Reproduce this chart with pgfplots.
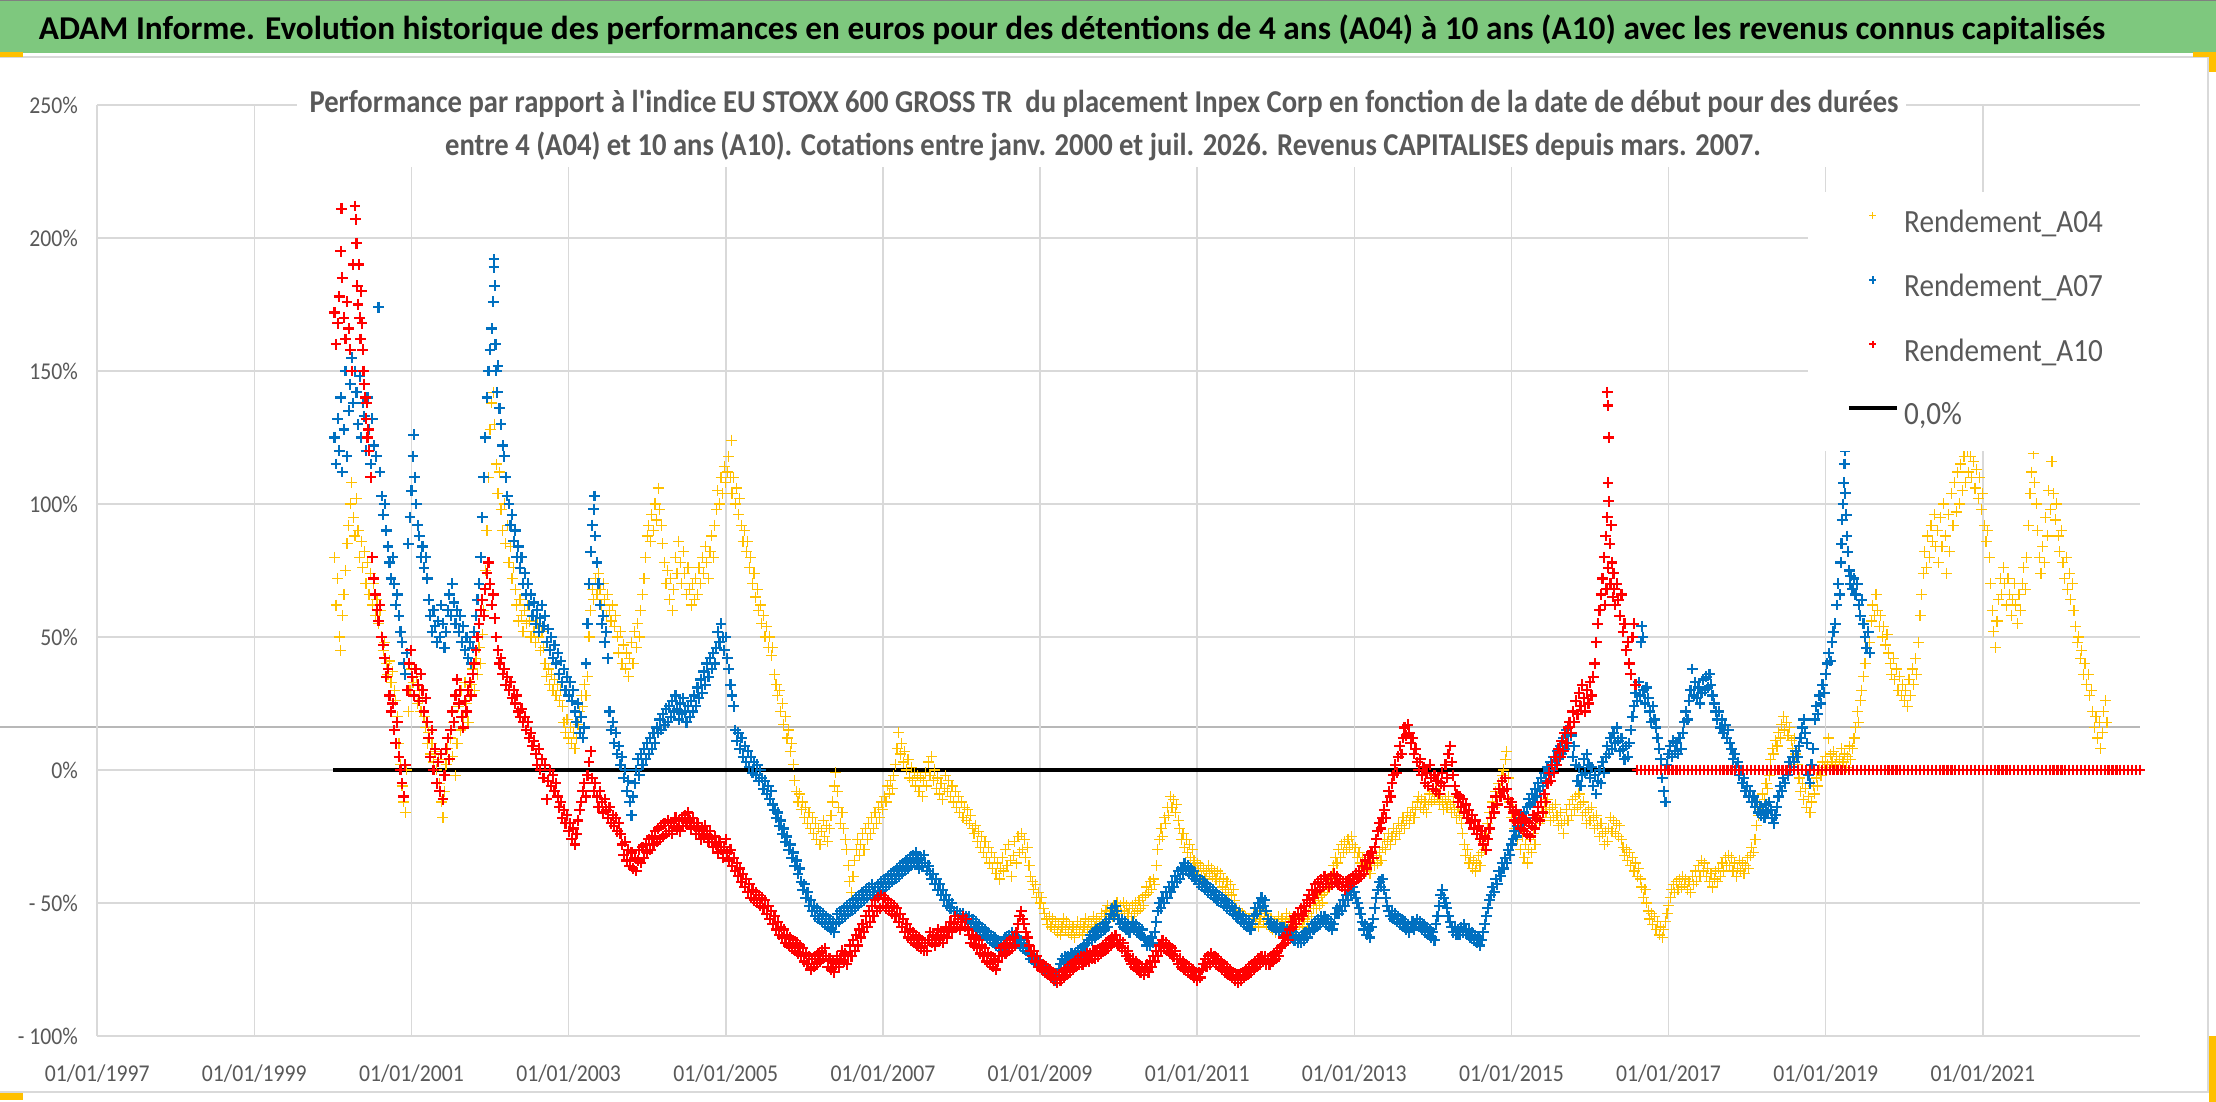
\documentclass[border=0pt]{standalone}
\usepackage{fontspec}
\setmainfont{Carlito}
\newfontfamily\chartfont{Carlito}[FakeStretch=0.9]
\usepackage{pgfplots}
\pgfplotsset{compat=1.18}
\definecolor{cA}{HTML}{FFC000}
\definecolor{cB}{HTML}{0070C0}
\definecolor{cC}{HTML}{FF0000}
\definecolor{gridc}{HTML}{D9D9D9}
\definecolor{txt}{HTML}{595959}
\definecolor{ban}{HTML}{7EC87E}
\begin{document}
\begin{tikzpicture}[x=0.5pt,y=0.5pt]
\fill[white] (0,0) rectangle (2216,1102);
\path[use as bounding box] (0,0) rectangle (2216,1102);
\fill[ban] (0,1049) rectangle (2216,1102);
\draw[gray, line width=0.75pt] (0,1101.5) -- (2216,1101.5);
\draw[gridc, line width=1pt] (0,1045) -- (2216,1045);
\draw[gridc, line width=1pt] (0,10) -- (2216,10);
\draw[gridc, line width=1pt] (2208,10) -- (2208,1045);
\draw[black!28, line width=1pt] (0,375.3) -- (2140,375.3);
\node[anchor=base, inner sep=0pt, font=\bfseries\fontsize{16.65}{20}\selectfont, text=black] at (1072,1062) {ADAM Informe. Evolution historique des performances en euros pour des détentions de 4 ans (A04) à 10 ans (A10) avec les revenus connus capitalisés};
\begin{axis}[
  at={(48.6pt,33pt)}, anchor=south west, scale only axis,
  width=1021.4pt, height=465.5pt,
  xmin=1997, xmax=2023, ymin=-100, ymax=250,
  xtick={1997,1999,2001,2003,2005,2007,2009,2011,2013,2015,2017,2019,2021},
  xticklabels={01/01/1997,01/01/1999,01/01/2001,01/01/2003,01/01/2005,01/01/2007,01/01/2009,01/01/2011,01/01/2013,01/01/2015,01/01/2017,01/01/2019,01/01/2021},
  ytick={-100,-50,0,50,100,150,200,250},
  yticklabels={- 100\%,- 50\%,0\%,50\%,100\%,150\%,200\%,250\%},
  xmajorgrids, ymajorgrids,
  major grid style={draw=gridc, line width=0.75pt},
  axis line style={draw=none},
  major tick length=0pt,
  tick label style={font=\chartfont\fontsize{12.05}{14}\selectfont, text=txt},
  xticklabel style={anchor=base, inner sep=0pt, yshift=-23pt},
  yticklabel style={anchor=east, inner sep=0pt, xshift=-9.5pt},
  clip=false,
  legend style={at={(0.8375,0.9067)}, anchor=north west, draw=none, fill=white,
    inner xsep=19pt, inner ysep=10pt, font=\chartfont\fontsize{16.2}{19}\selectfont, text=txt,
    row sep=18.9pt, column sep=2.5pt,
    nodes={inner sep=0pt, text height=10pt, text depth=3pt}},
  legend cell align=left,
  legend image code/.code={\draw[mark repeat=2,mark phase=2,#1,mark size=1.8pt] plot coordinates {(0pt,4.9pt) (12pt,4.9pt) (24pt,4.9pt)};},
]
% Rendement_A04
\addplot[only marks, mark=+, color=cA, mark size=2.75pt, line width=0.6pt] coordinates {
(2000.02,80)(2000.04,62)(2000.06,72)(2000.08,50)(2000.10,45)(2000.12,58)(2000.14,66)(2000.16,75)(2000.18,85)(2000.20,92)(2000.22,100)(2000.24,108)(2000.26,95)(2000.28,88)(2000.30,102)(2000.32,90)(2000.34,80)(2000.36,86)(2000.38,76)(2000.40,82)(2000.42,70)(2000.44,78)(2000.46,66)(2000.48,74)(2000.50,62)(2000.52,70)(2000.54,58)(2000.56,64)(2000.58,55)(2000.60,60)(2000.62,50)(2000.64,45)(2000.66,48)(2000.68,40)(2000.70,36)(2000.72,41)(2000.74,33)(2000.76,37)(2000.78,30)(2000.80,26)(2000.82,20)(2000.84,10)(2000.86,2)(2000.88,-6)(2000.90,-12)(2000.92,-16)(2000.94,0)
(2000.96,22)(2000.98,30)(2001.00,38)(2001.02,33)(2001.04,28)(2001.06,35)(2001.08,25)(2001.10,30)(2001.12,22)(2001.14,27)(2001.16,20)
(2001.18,16)(2001.20,10)(2001.22,14)(2001.24,6)(2001.26,10)(2001.28,3)(2001.30,7)(2001.32,0)(2001.34,4)(2001.36,-5)(2001.38,-12)(2001.40,-18)(2001.42,-8)(2001.44,2)(2001.46,8)(2001.48,4)
(2001.50,12)(2001.52,5)(2001.54,18)(2001.56,-2)(2001.58,10)(2001.60,24)(2001.62,15)(2001.64,30)(2001.66,20)(2001.68,33)(2001.70,25)(2001.72,18)(2001.74,28)
(2001.76,32)(2001.78,38)(2001.80,30)(2001.82,42)(2001.84,36)(2001.86,46)(2001.88,40)(2001.90,51)
(2001.92,60)(2001.94,75)(2001.96,90)(2001.98,110)(2002.00,128)(2002.02,138)(2002.04,142)(2002.06,130)(2002.08,115)(2002.10,104)(2002.12,112)(2002.14,98)(2002.16,90)(2002.18,100)(2002.20,85)(2002.22,92)(2002.24,78)(2002.26,84)(2002.28,72)(2002.30,76)(2002.32,68)
(2002.34,62)(2002.36,56)(2002.38,64)(2002.40,58)(2002.42,52)(2002.44,60)(2002.46,55)(2002.48,62)(2002.50,56)(2002.52,50)(2002.54,58)(2002.56,52)(2002.58,48)(2002.60,55)(2002.62,50)(2002.64,45)(2002.66,52)(2002.68,46)
(2002.70,40)(2002.72,35)(2002.74,38)(2002.76,32)(2002.78,36)(2002.80,30)(2002.82,34)(2002.84,28)(2002.86,32)(2002.88,26)(2002.90,30)(2002.92,24)
(2002.94,18)(2002.96,14)(2002.98,19)(2003.00,12)(2003.02,16)(2003.04,10)(2003.06,14)(2003.08,8)(2003.10,12)(2003.12,17)
(2003.14,22)(2003.16,28)(2003.18,24)(2003.20,32)(2003.22,28)(2003.24,35)
(2003.26,50)(2003.28,60)(2003.30,68)(2003.32,64)(2003.34,72)(2003.36,66)(2003.38,74)(2003.40,68)(2003.42,62)(2003.44,70)(2003.46,64)(2003.48,58)(2003.50,66)(2003.52,60)(2003.54,56)(2003.56,62)(2003.58,54)(2003.60,58)
(2003.62,50)(2003.64,44)(2003.66,52)(2003.68,40)(2003.70,47)(2003.72,38)(2003.74,44)(2003.76,35)(2003.78,42)(2003.80,48)(2003.82,40)(2003.84,52)(2003.86,46)(2003.88,55)(2003.90,50)(2003.92,60)(2003.94,66)
(2003.96,72)(2003.98,80)(2004.00,88)(2004.02,92)(2004.04,86)(2004.06,96)(2004.08,90)(2004.10,100)(2004.12,94)(2004.14,106)(2004.16,98)(2004.18,92)(2004.20,85)
(2004.22,78)(2004.24,70)(2004.26,75)(2004.28,64)(2004.30,72)(2004.32,60)(2004.34,68)(2004.36,80)(2004.38,74)(2004.40,86)(2004.42,78)(2004.44,70)(2004.46,82)(2004.48,74)(2004.50,66)(2004.52,76)(2004.54,68)(2004.56,62)(2004.58,70)
(2004.60,64)(2004.62,72)(2004.64,66)(2004.66,76)(2004.68,70)(2004.70,80)(2004.72,74)(2004.74,84)(2004.76,78)(2004.78,72)(2004.80,82)(2004.82,88)(2004.84,80)(2004.86,92)
(2004.88,98)(2004.90,105)(2004.92,100)(2004.94,110)(2004.96,104)(2004.98,114)(2005.00,108)(2005.02,112)(2005.04,118)(2005.06,110)(2005.07,124)(2005.08,104)(2005.10,110)(2005.12,100)(2005.14,106)(2005.16,96)(2005.18,102)
(2005.20,92)(2005.22,86)(2005.24,90)(2005.26,82)(2005.28,86)(2005.30,76)(2005.32,80)(2005.34,70)(2005.36,74)(2005.38,65)(2005.40,68)(2005.42,60)
(2005.44,62)(2005.46,55)(2005.48,58)(2005.50,50)(2005.52,54)(2005.54,46)(2005.56,50)(2005.58,43)(2005.60,46)
(2005.62,36)(2005.64,32)(2005.66,28)(2005.68,30)(2005.70,22)(2005.72,25)(2005.74,17)(2005.76,20)(2005.78,12)(2005.80,15)(2005.82,7)(2005.84,10)(2005.86,2)
(2005.88,-4)(2005.90,-8)(2005.92,-12)(2005.94,-9)(2005.96,-15)(2005.98,-12)(2006.00,-18)(2006.02,-14)(2006.04,-20)(2006.06,-16)(2006.08,-22)(2006.10,-18)(2006.12,-24)(2006.14,-20)(2006.16,-26)(2006.18,-22)(2006.20,-28)(2006.22,-23)(2006.24,-19)(2006.26,-25)(2006.28,-21)(2006.30,-27)(2006.32,-22)(2006.34,-17)(2006.36,-12)(2006.38,-6)(2006.40,-1)(2006.42,-8)(2006.44,-14)(2006.46,-20)(2006.48,-16)(2006.50,-22)(2006.52,-26)
(2006.54,-30)(2006.56,-36)(2006.58,-42)(2006.60,-46)(2006.62,-40)(2006.64,-34)(2006.66,-30)(2006.68,-26)(2006.70,-32)
(2006.72,-28)(2006.74,-24)(2006.76,-30)(2006.78,-22)(2006.80,-26)(2006.82,-20)(2006.84,-24)(2006.86,-18)(2006.88,-22)(2006.90,-16)(2006.92,-20)(2006.94,-14)(2006.96,-18)(2006.98,-12)
(2007.00,-15)(2007.02,-10)(2007.04,-12)(2007.06,-6)(2007.08,-9)(2007.10,-4)(2007.12,-7)(2007.14,-2)
(2007.16,2)(2007.18,8)(2007.20,14)(2007.22,6)(2007.24,10)(2007.26,3)(2007.28,7)(2007.30,0)(2007.32,4)(2007.34,-3)
(2007.36,1)(2007.38,-4)(2007.40,-1)(2007.42,-6)(2007.44,-2)(2007.46,-8)(2007.48,-3)(2007.50,-10)(2007.52,-4)(2007.54,-1)(2007.56,-6)(2007.58,3)(2007.60,-2)(2007.62,5)(2007.64,-4)(2007.66,0)(2007.68,-7)(2007.70,-3)(2007.72,-9)(2007.74,-5)(2007.76,-11)(2007.78,-7)(2007.80,-2)(2007.82,-8)(2007.84,-4)(2007.86,-10)(2007.88,-6)(2007.90,-12)(2007.92,-8)(2007.94,-14)(2007.96,-10)(2007.98,-16)
(2008.00,-12)(2008.02,-18)(2008.04,-14)(2008.06,-19)(2008.08,-15)(2008.10,-20)(2008.12,-17)(2008.14,-22)
(2008.16,-24)(2008.18,-21)(2008.20,-27)(2008.22,-23)(2008.24,-29)(2008.26,-25)(2008.28,-31)(2008.30,-27)(2008.32,-33)(2008.34,-29)(2008.36,-35)(2008.38,-31)(2008.40,-37)(2008.42,-33)(2008.44,-39)(2008.46,-35)(2008.48,-41)(2008.50,-37)
(2008.52,-33)(2008.54,-38)(2008.56,-30)(2008.58,-36)(2008.60,-28)(2008.62,-34)(2008.64,-40)(2008.66,-32)(2008.68,-27)(2008.70,-35)(2008.72,-25)(2008.74,-31)(2008.76,-24)(2008.78,-30)(2008.80,-26)(2008.82,-33)(2008.84,-29)(2008.86,-36)(2008.88,-40)
(2008.90,-42)(2008.92,-45)(2008.94,-43)(2008.96,-48)(2008.98,-46)(2009.00,-50)(2009.02,-48)(2009.04,-52)(2009.06,-54)
(2009.08,-56)(2009.10,-58)(2009.12,-55)(2009.14,-59)(2009.16,-56)(2009.18,-60)(2009.20,-57)(2009.22,-61)(2009.24,-58)(2009.26,-62)(2009.28,-59)(2009.30,-56)(2009.32,-60)(2009.34,-57)(2009.36,-61)(2009.38,-58)(2009.40,-62)(2009.42,-59)(2009.44,-63)(2009.46,-60)(2009.48,-57)(2009.50,-61)(2009.52,-58)(2009.54,-62)(2009.56,-59)(2009.58,-56)(2009.60,-60)(2009.62,-57)(2009.64,-61)(2009.66,-58)(2009.68,-55)(2009.70,-59)(2009.72,-56)(2009.74,-60)(2009.76,-57)(2009.78,-54)(2009.80,-58)(2009.82,-55)
(2009.84,-53)(2009.86,-51)(2009.88,-54)(2009.90,-52)(2009.92,-55)(2009.94,-51)(2009.96,-54)(2009.98,-50)(2010.00,-53)(2010.02,-51)(2010.04,-54)(2010.06,-50)(2010.08,-53)(2010.10,-51)(2010.12,-54)(2010.14,-52)(2010.16,-55)(2010.18,-51)(2010.20,-54)(2010.22,-50)(2010.24,-53)(2010.26,-49)(2010.28,-52)(2010.30,-48)(2010.32,-51)
(2010.34,-47)(2010.36,-44)(2010.38,-46)(2010.40,-42)(2010.42,-45)(2010.44,-41)(2010.46,-43)
(2010.48,-36)(2010.50,-30)(2010.52,-26)(2010.54,-22)(2010.56,-25)(2010.58,-18)(2010.60,-20)(2010.62,-14)(2010.64,-17)(2010.66,-10)(2010.68,-14)(2010.70,-11)(2010.72,-16)(2010.74,-13)(2010.76,-19)(2010.78,-22)(2010.80,-26)
(2010.82,-24)(2010.84,-29)(2010.86,-26)(2010.88,-31)(2010.90,-28)(2010.92,-33)(2010.94,-30)(2010.96,-34)
(2010.98,-37)(2011.00,-35)(2011.02,-38)(2011.04,-36)(2011.06,-40)(2011.08,-37)(2011.10,-41)(2011.12,-38)(2011.14,-36)(2011.16,-39)(2011.18,-37)(2011.20,-40)(2011.22,-38)(2011.24,-41)
(2011.26,-38)(2011.28,-42)(2011.30,-39)(2011.32,-44)(2011.34,-41)(2011.36,-45)(2011.38,-42)(2011.40,-46)(2011.42,-43)(2011.44,-47)(2011.46,-45)(2011.48,-49)
(2011.50,-52)(2011.52,-55)(2011.54,-53)(2011.56,-57)(2011.58,-54)(2011.60,-58)(2011.62,-55)(2011.64,-59)(2011.66,-56)(2011.68,-60)(2011.70,-57)(2011.72,-54)(2011.74,-58)(2011.76,-55)(2011.78,-59)(2011.80,-56)(2011.82,-53)(2011.84,-57)(2011.86,-54)(2011.88,-58)(2011.90,-55)(2011.92,-59)(2011.94,-56)(2011.96,-60)(2011.98,-57)(2012.00,-61)(2012.02,-58)(2012.04,-55)(2012.06,-59)(2012.08,-56)(2012.10,-60)(2012.12,-57)(2012.14,-54)
(2012.16,-58)(2012.18,-55)(2012.20,-59)(2012.22,-56)(2012.24,-60)(2012.26,-57)(2012.28,-54)(2012.30,-58)(2012.32,-55)(2012.34,-59)(2012.36,-56)(2012.38,-53)(2012.40,-57)(2012.42,-54)(2012.44,-51)(2012.46,-55)(2012.48,-52)(2012.50,-49)(2012.52,-52)(2012.54,-48)(2012.56,-51)(2012.58,-47)(2012.60,-50)
(2012.62,-46)(2012.64,-43)(2012.66,-45)(2012.68,-41)(2012.70,-43)(2012.72,-39)(2012.74,-36)(2012.76,-33)(2012.78,-35)(2012.80,-30)(2012.82,-33)(2012.84,-28)(2012.86,-31)(2012.88,-27)(2012.90,-30)(2012.92,-26)(2012.94,-29)(2012.96,-25)(2012.98,-28)(2013.00,-31)(2013.02,-29)(2013.04,-33)(2013.06,-31)
(2013.08,-35)(2013.10,-33)(2013.12,-37)(2013.14,-34)(2013.16,-38)(2013.18,-35)(2013.20,-39)(2013.22,-36)(2013.24,-33)(2013.26,-36)(2013.28,-32)(2013.30,-35)(2013.32,-31)(2013.34,-34)
(2013.36,-29)(2013.38,-26)(2013.40,-30)(2013.42,-27)(2013.44,-24)(2013.46,-28)(2013.48,-25)(2013.50,-22)(2013.52,-26)(2013.54,-23)(2013.56,-20)(2013.58,-24)(2013.60,-21)(2013.62,-18)(2013.64,-22)(2013.66,-19)(2013.68,-16)(2013.70,-20)(2013.72,-17)(2013.74,-14)(2013.76,-18)(2013.78,-15)(2013.80,-12)
(2013.82,-10)(2013.84,-14)(2013.86,-11)(2013.88,-15)(2013.90,-12)(2013.92,-16)(2013.94,-13)(2013.96,-9)(2013.98,-12)(2014.00,-8)(2014.02,-11)(2014.04,-7)(2014.06,-10)(2014.08,-13)(2014.10,-9)(2014.12,-12)(2014.14,-15)(2014.16,-11)(2014.18,-14)(2014.20,-10)(2014.22,-13)(2014.24,-16)(2014.26,-12)(2014.28,-15)(2014.30,-18)(2014.32,-14)(2014.34,-17)(2014.36,-20)(2014.38,-24)
(2014.40,-28)(2014.42,-32)(2014.44,-30)(2014.46,-35)(2014.48,-33)(2014.50,-37)(2014.52,-34)(2014.54,-38)(2014.56,-35)(2014.58,-32)(2014.60,-36)(2014.62,-31)(2014.64,-27)(2014.66,-30)(2014.68,-24)
(2014.70,-20)(2014.72,-16)(2014.74,-18)(2014.76,-12)(2014.78,-14)(2014.80,-8)(2014.82,-10)(2014.84,-5)(2014.86,-7)(2014.88,-2)(2014.90,0)(2014.92,4)(2014.94,7)(2014.96,-3)
(2014.98,-12)(2015.00,-18)(2015.02,-15)(2015.04,-22)(2015.06,-18)(2015.08,-26)(2015.10,-22)(2015.12,-30)(2015.14,-25)(2015.16,-33)(2015.18,-28)(2015.20,-35)(2015.22,-30)(2015.24,-26)(2015.26,-31)(2015.28,-24)(2015.30,-28)(2015.32,-20)
(2015.34,-16)(2015.36,-20)(2015.38,-14)(2015.40,-18)(2015.42,-12)(2015.44,-16)(2015.46,-11)(2015.48,-15)(2015.50,-19)(2015.52,-14)(2015.54,-18)(2015.56,-13)(2015.58,-17)(2015.60,-21)(2015.62,-16)(2015.64,-20)(2015.66,-24)(2015.68,-19)(2015.70,-15)(2015.72,-19)(2015.74,-13)(2015.76,-17)(2015.78,-11)(2015.80,-15)(2015.82,-10)(2015.84,-14)(2015.86,-9)(2015.88,-13)(2015.90,-17)(2015.92,-12)(2015.94,-16)(2015.96,-20)(2015.98,-15)
(2016.00,-19)(2016.02,-14)(2016.04,-18)(2016.06,-22)(2016.08,-17)(2016.10,-21)(2016.12,-25)(2016.14,-20)(2016.16,-24)(2016.18,-28)(2016.20,-23)(2016.22,-27)(2016.24,-22)(2016.26,-18)(2016.28,-23)(2016.30,-19)(2016.32,-24)(2016.34,-20)(2016.36,-25)(2016.38,-21)(2016.40,-26)
(2016.42,-29)(2016.44,-32)(2016.46,-30)(2016.48,-34)(2016.50,-31)(2016.52,-36)(2016.54,-33)(2016.56,-38)(2016.58,-35)(2016.60,-40)(2016.62,-37)(2016.64,-41)(2016.66,-44)(2016.68,-48)(2016.70,-45)(2016.72,-50)
(2016.74,-53)(2016.76,-56)(2016.78,-54)(2016.80,-58)(2016.82,-55)(2016.84,-60)(2016.86,-57)(2016.88,-62)(2016.90,-59)(2016.92,-63)(2016.94,-60)(2016.96,-57)(2016.98,-54)(2017.00,-51)
(2017.02,-48)(2017.04,-45)(2017.06,-43)(2017.08,-46)(2017.10,-42)(2017.12,-45)(2017.14,-41)(2017.16,-44)(2017.18,-40)(2017.20,-43)(2017.22,-41)(2017.24,-45)(2017.26,-42)(2017.28,-46)
(2017.30,-40)(2017.32,-43)(2017.34,-38)(2017.36,-42)(2017.38,-36)(2017.40,-40)(2017.42,-34)(2017.44,-38)(2017.46,-35)(2017.48,-40)(2017.50,-37)(2017.52,-42)(2017.54,-39)(2017.56,-44)(2017.58,-41)(2017.60,-38)(2017.62,-42)(2017.64,-37)(2017.66,-40)(2017.68,-35)(2017.70,-38)(2017.72,-33)(2017.74,-36)
(2017.76,-32)(2017.78,-36)(2017.80,-33)(2017.82,-38)(2017.84,-35)(2017.86,-40)(2017.88,-37)(2017.90,-34)(2017.92,-38)(2017.94,-35)(2017.96,-39)(2017.98,-36)(2018.00,-33)(2018.02,-37)(2018.04,-32)(2018.06,-29)(2018.08,-31)(2018.10,-26)
(2018.12,-21)(2018.14,-17)(2018.16,-13)(2018.18,-15)(2018.20,-9)(2018.22,-11)(2018.24,-5)(2018.26,-7)(2018.28,-2)
(2018.30,4)(2018.32,8)(2018.34,6)(2018.36,11)(2018.38,9)(2018.40,14)(2018.42,12)(2018.44,17)(2018.46,20)(2018.48,15)(2018.50,18)(2018.52,13)(2018.54,16)(2018.56,11)(2018.58,8)(2018.60,12)(2018.62,6)(2018.64,2)
(2018.66,-3)(2018.68,-8)(2018.70,-5)(2018.72,-11)(2018.74,-7)(2018.76,-14)(2018.78,-10)(2018.80,-16)(2018.82,-12)(2018.84,-6)(2018.86,-9)(2018.88,-3)(2018.90,-6)(2018.92,0)(2018.94,-2)(2018.96,3)
(2018.98,1)(2019.00,5)(2019.02,2)(2019.04,12)(2019.06,6)(2019.08,3)(2019.10,7)(2019.12,2)(2019.14,5)(2019.16,0)(2019.18,4)(2019.20,8)(2019.22,3)(2019.24,6)(2019.26,1)(2019.28,5)(2019.30,9)(2019.32,4)(2019.34,8)(2019.36,12)
(2019.38,16)(2019.40,22)(2019.42,18)(2019.44,26)(2019.46,30)(2019.48,35)
(2019.50,40)(2019.52,46)(2019.54,52)(2019.56,48)(2019.58,56)(2019.60,62)(2019.62,58)(2019.64,66)(2019.66,60)(2019.68,54)(2019.70,58)(2019.72,50)(2019.74,54)(2019.76,47)(2019.78,51)(2019.80,44)
(2019.82,40)(2019.84,36)(2019.86,42)(2019.88,34)(2019.90,38)(2019.92,30)(2019.94,35)(2019.96,28)(2019.98,32)(2020.00,26)(2020.02,30)(2020.04,24)(2020.06,34)(2020.08,28)(2020.10,38)(2020.12,32)(2020.14,42)(2020.16,36)
(2020.18,48)(2020.20,58)(2020.22,66)(2020.24,74)(2020.26,82)(2020.28,76)(2020.30,88)(2020.32,80)(2020.34,92)(2020.36,86)(2020.38,96)(2020.40,84)
(2020.42,90)(2020.44,78)(2020.46,95)(2020.48,84)(2020.50,100)(2020.52,88)(2020.54,74)(2020.56,96)(2020.58,82)(2020.60,104)(2020.62,92)(2020.64,108)(2020.66,97)(2020.68,112)(2020.70,100)(2020.72,115)(2020.74,105)(2020.76,118)(2020.78,108)(2020.80,120)(2020.82,112)(2020.84,118)(2020.86,110)(2020.88,116)(2020.90,106)(2020.92,113)(2020.94,102)(2020.96,110)(2020.98,98)(2021.00,104)
(2021.02,92)(2021.04,86)(2021.06,90)(2021.08,80)(2021.10,70)(2021.12,60)(2021.14,52)(2021.16,46)(2021.18,56)(2021.20,64)(2021.22,72)(2021.24,66)(2021.26,76)(2021.28,70)(2021.30,62)(2021.32,72)(2021.34,66)(2021.36,58)(2021.38,64)(2021.40,70)(2021.42,62)(2021.44,55)(2021.46,66)(2021.48,60)(2021.50,70)(2021.52,76)(2021.54,68)(2021.56,80)
(2021.58,92)(2021.60,104)(2021.62,112)(2021.64,119)(2021.66,108)(2021.68,100)(2021.70,90)
(2021.72,80)(2021.74,74)(2021.76,84)(2021.78,78)(2021.80,95)(2021.82,88)(2021.84,105)(2021.86,98)(2021.88,116)(2021.90,104)(2021.92,94)(2021.94,100)(2021.96,88)(2021.98,82)(2022.00,90)(2022.02,78)(2022.04,72)(2022.06,80)(2022.08,68)(2022.10,74)(2022.12,64)(2022.14,70)(2022.16,60)
(2022.18,54)(2022.20,48)(2022.22,50)(2022.24,42)(2022.26,45)(2022.28,36)(2022.30,40)(2022.32,32)(2022.34,36)(2022.36,28)(2022.38,30)(2022.40,22)(2022.42,16)(2022.44,20)(2022.46,12)(2022.48,18)(2022.50,8)(2022.52,14)(2022.54,22)(2022.56,26)(2022.58,18)
};
\addlegendentry{Rendement\_A04}
% Rendement_A07
\addplot[only marks, mark=+, color=cB, mark size=2.7pt, line width=1.1pt] coordinates {
(2000.02,125)(2000.04,115)(2000.06,132)(2000.08,120)(2000.10,140)(2000.12,112)(2000.14,128)(2000.16,150)(2000.18,118)(2000.20,135)(2000.22,145)(2000.24,155)(2000.26,138)(2000.28,150)(2000.30,142)(2000.32,130)(2000.34,148)(2000.36,125)(2000.38,138)(2000.40,133)(2000.42,120)(2000.44,140)(2000.46,128)(2000.48,115)(2000.50,132)(2000.52,122)(2000.55,118)(2000.58,174)(2000.60,112)(2000.62,103)(2000.64,96)(2000.66,100)(2000.68,90)(2000.70,84)(2000.72,78)(2000.74,72)(2000.76,80)(2000.78,70)(2000.80,62)(2000.82,66)(2000.84,58)(2000.86,52)(2000.88,48)(2000.90,40)(2000.92,36)(2000.94,44)
(2000.96,85)(2000.98,95)(2001.00,105)(2001.02,118)(2001.03,126)(2001.04,110)(2001.06,100)(2001.08,92)
(2001.10,88)(2001.12,80)(2001.14,84)(2001.16,76)(2001.18,80)(2001.20,72)
(2001.22,64)(2001.24,58)(2001.26,52)(2001.28,60)(2001.30,54)(2001.32,48)(2001.34,56)(2001.36,50)(2001.38,62)(2001.40,55)(2001.42,46)(2001.44,52)(2001.46,60)(2001.48,66)(2001.50,58)(2001.52,70)(2001.54,63)(2001.56,55)(2001.58,60)(2001.60,52)(2001.62,58)(2001.64,48)
(2001.66,54)(2001.68,45)(2001.70,50)(2001.72,42)(2001.74,48)(2001.76,40)(2001.78,46)(2001.80,52)(2001.82,58)(2001.84,64)(2001.86,70)
(2001.88,80)(2001.90,95)(2001.92,110)(2001.94,125)(2001.96,140)(2001.98,150)(2002.00,158)(2002.02,166)(2002.04,176)(2002.05,192)(2002.05,189)(2002.06,182)(2002.07,160)(2002.08,150)(2002.09,142)(2002.10,152)(2002.12,136)(2002.14,130)(2002.16,122)(2002.18,118)(2002.20,110)(2002.22,103)(2002.24,100)(2002.26,92)(2002.28,96)(2002.30,86)(2002.32,90)(2002.34,80)(2002.36,84)(2002.38,76)(2002.40,80)(2002.42,70)(2002.44,74)(2002.46,66)(2002.48,70)(2002.50,62)
(2002.52,66)(2002.54,58)(2002.56,63)(2002.58,55)(2002.60,60)(2002.62,52)(2002.64,57)(2002.66,62)(2002.68,54)(2002.70,58)(2002.72,48)(2002.74,53)(2002.76,45)(2002.78,50)(2002.80,42)(2002.82,47)(2002.84,40)(2002.86,44)(2002.88,36)(2002.90,41)(2002.92,33)(2002.94,38)(2002.96,30)(2002.98,35)(2003.00,28)(2003.02,33)(2003.04,26)(2003.06,30)(2003.08,22)(2003.10,18)(2003.12,25)(2003.14,14)(2003.16,20)(2003.18,12)(2003.20,16)
(2003.22,40)(2003.24,55)(2003.26,70)(2003.28,82)(2003.30,92)(2003.32,98)(2003.33,103)(2003.34,88)(2003.36,78)(2003.38,70)(2003.40,62)(2003.42,55)(2003.44,58)(2003.46,48)(2003.48,52)(2003.50,42)
(2003.52,22)(2003.54,15)(2003.56,18)(2003.58,10)(2003.60,14)(2003.62,6)(2003.64,9)(2003.66,2)(2003.68,5)(2003.70,-3)(2003.72,0)(2003.74,-8)(2003.76,-4)(2003.78,-12)(2003.80,-17)(2003.82,-10)(2003.84,-5)
(2003.86,0)(2003.88,4)(2003.90,-2)(2003.92,6)(2003.94,2)(2003.96,8)(2003.98,4)(2004.00,10)(2004.02,6)(2004.04,12)(2004.06,8)(2004.08,14)(2004.10,10)(2004.12,16)
(2004.14,14)(2004.16,19)(2004.18,15)(2004.20,21)(2004.22,17)(2004.24,23)(2004.26,18)(2004.28,24)(2004.30,20)(2004.32,26)(2004.34,22)(2004.36,28)(2004.38,23)(2004.40,19)(2004.42,25)(2004.44,21)(2004.46,27)(2004.48,22)(2004.50,18)(2004.52,24)(2004.54,20)(2004.56,26)(2004.58,22)
(2004.60,28)(2004.62,24)(2004.64,31)(2004.66,27)(2004.68,34)(2004.70,29)(2004.72,37)(2004.74,32)(2004.76,40)(2004.78,35)(2004.80,42)(2004.82,38)(2004.84,44)(2004.86,40)
(2004.88,46)(2004.90,52)(2004.92,48)(2004.94,55)(2004.96,50)(2004.98,45)(2005.00,50)(2005.02,42)
(2005.04,38)(2005.06,32)(2005.08,28)(2005.10,24)
(2005.12,15)(2005.14,11)(2005.16,14)(2005.18,8)(2005.20,12)(2005.22,5)(2005.24,9)(2005.26,3)(2005.28,7)(2005.30,1)(2005.32,5)(2005.34,-1)(2005.36,3)(2005.38,-2)(2005.40,2)(2005.42,-4)(2005.44,0)
(2005.46,-3)(2005.48,-7)(2005.50,-4)(2005.52,-9)(2005.54,-6)(2005.56,-11)(2005.58,-8)(2005.60,-13)
(2005.62,-15)(2005.64,-18)(2005.66,-16)(2005.68,-21)(2005.70,-19)(2005.72,-24)(2005.74,-22)(2005.76,-27)(2005.78,-25)(2005.80,-30)(2005.82,-28)(2005.84,-33)(2005.86,-31)(2005.88,-36)(2005.90,-34)(2005.92,-39)(2005.94,-37)
(2005.96,-42)(2005.98,-45)(2006.00,-43)(2006.02,-48)(2006.04,-46)(2006.06,-51)(2006.08,-49)(2006.10,-53)(2006.12,-51)(2006.14,-55)(2006.16,-52)(2006.18,-56)
(2006.20,-53)(2006.22,-57)(2006.24,-54)(2006.26,-58)(2006.28,-55)(2006.30,-59)(2006.32,-56)(2006.34,-60)(2006.36,-57)(2006.38,-61)(2006.40,-58)(2006.42,-54)(2006.44,-57)(2006.46,-53)(2006.48,-56)(2006.50,-52)(2006.52,-55)(2006.54,-51)(2006.56,-54)(2006.58,-50)(2006.60,-53)(2006.62,-49)(2006.64,-52)(2006.66,-48)(2006.68,-51)(2006.70,-47)
(2006.72,-50)(2006.74,-46)(2006.76,-49)(2006.78,-45)(2006.80,-48)(2006.82,-44)(2006.84,-47)(2006.86,-43)(2006.88,-46)(2006.90,-44)(2006.92,-47)(2006.94,-43)(2006.96,-46)(2006.98,-42)
(2007.00,-45)(2007.02,-41)(2007.04,-44)(2007.06,-40)(2007.08,-43)(2007.10,-39)(2007.12,-42)(2007.14,-38)(2007.16,-41)(2007.18,-37)(2007.20,-40)(2007.22,-36)(2007.24,-39)
(2007.26,-35)(2007.28,-38)(2007.30,-34)(2007.32,-37)(2007.34,-33)(2007.36,-36)(2007.38,-32)(2007.40,-35)(2007.42,-31)(2007.44,-34)(2007.46,-37)(2007.48,-33)(2007.50,-36)(2007.52,-32)(2007.54,-35)(2007.56,-38)(2007.58,-36)(2007.60,-39)
(2007.62,-41)(2007.64,-39)(2007.66,-43)(2007.68,-41)(2007.70,-45)(2007.72,-43)(2007.74,-47)(2007.76,-45)(2007.78,-49)(2007.80,-47)(2007.82,-51)(2007.84,-49)(2007.86,-52)(2007.88,-50)
(2007.90,-53)(2007.92,-55)(2007.94,-53)(2007.96,-56)(2007.98,-54)(2008.00,-56)(2008.02,-54)(2008.04,-57)(2008.06,-55)(2008.08,-57)(2008.10,-55)
(2008.12,-58)(2008.14,-56)(2008.16,-59)(2008.18,-57)(2008.20,-60)(2008.22,-58)(2008.24,-61)(2008.26,-59)(2008.28,-62)(2008.30,-60)(2008.32,-63)(2008.34,-61)(2008.36,-64)(2008.38,-62)(2008.40,-65)(2008.42,-63)(2008.44,-66)(2008.46,-64)(2008.48,-67)(2008.50,-65)
(2008.52,-68)(2008.54,-65)(2008.56,-63)(2008.58,-66)(2008.60,-62)(2008.62,-65)(2008.64,-61)(2008.66,-64)(2008.68,-62)(2008.70,-65)(2008.72,-63)(2008.74,-66)(2008.76,-64)(2008.78,-67)(2008.80,-65)(2008.82,-68)(2008.84,-66)
(2008.86,-69)(2008.88,-71)(2008.90,-70)(2008.92,-72)(2008.94,-71)(2008.96,-73)(2008.98,-72)(2009.00,-74)(2009.02,-73)(2009.04,-75)(2009.06,-74)(2009.08,-76)(2009.10,-75)(2009.12,-77)(2009.14,-76)(2009.16,-78)(2009.18,-77)(2009.20,-79)(2009.22,-77)(2009.24,-75)
(2009.26,-73)(2009.28,-71)(2009.30,-73)(2009.32,-70)(2009.34,-72)(2009.36,-70)(2009.38,-72)(2009.40,-69)(2009.42,-71)(2009.44,-69)(2009.46,-71)(2009.48,-68)(2009.50,-70)(2009.52,-67)(2009.54,-69)(2009.56,-66)(2009.58,-68)(2009.60,-65)
(2009.62,-64)(2009.64,-62)(2009.66,-64)(2009.68,-61)(2009.70,-63)(2009.72,-60)(2009.74,-62)(2009.76,-59)(2009.78,-61)(2009.80,-58)(2009.82,-60)(2009.84,-57)(2009.86,-59)(2009.88,-56)
(2009.90,-54)(2009.92,-52)(2009.94,-55)(2009.96,-51)(2009.98,-53)
(2010.00,-56)(2010.02,-58)(2010.04,-56)(2010.06,-59)(2010.08,-57)(2010.10,-60)(2010.12,-58)(2010.14,-61)(2010.16,-59)(2010.18,-57)(2010.20,-60)(2010.22,-58)(2010.24,-61)(2010.26,-59)(2010.28,-62)(2010.30,-60)(2010.32,-63)
(2010.34,-64)(2010.36,-66)(2010.38,-64)(2010.40,-66)(2010.42,-63)(2010.44,-65)(2010.46,-61)
(2010.48,-57)(2010.50,-53)(2010.52,-50)(2010.54,-52)(2010.56,-48)(2010.58,-50)(2010.60,-46)(2010.62,-48)(2010.64,-44)(2010.66,-46)(2010.68,-42)(2010.70,-44)
(2010.72,-40)(2010.74,-42)(2010.76,-38)(2010.78,-41)(2010.80,-37)(2010.82,-39)(2010.84,-35)(2010.86,-38)(2010.88,-36)(2010.90,-39)(2010.92,-37)(2010.94,-40)(2010.96,-38)(2010.98,-41)
(2011.00,-40)(2011.02,-43)(2011.04,-41)(2011.06,-44)(2011.08,-42)(2011.10,-45)(2011.12,-43)(2011.14,-46)(2011.16,-44)(2011.18,-47)(2011.20,-45)(2011.22,-48)(2011.24,-46)
(2011.26,-49)(2011.28,-47)(2011.30,-50)(2011.32,-48)(2011.34,-51)(2011.36,-49)(2011.38,-52)(2011.40,-50)(2011.42,-53)(2011.44,-51)(2011.46,-54)(2011.48,-52)(2011.50,-55)
(2011.52,-56)(2011.54,-54)(2011.56,-57)(2011.58,-55)(2011.60,-58)(2011.62,-56)(2011.64,-59)(2011.66,-57)(2011.68,-60)(2011.70,-58)
(2011.72,-55)(2011.74,-52)(2011.76,-54)(2011.78,-50)(2011.80,-52)(2011.82,-48)(2011.84,-51)(2011.86,-49)(2011.88,-53)
(2011.90,-56)(2011.92,-58)(2011.94,-57)(2011.96,-59)(2011.98,-58)(2012.00,-60)(2012.02,-58)(2012.04,-61)(2012.06,-59)(2012.08,-61)(2012.10,-59)(2012.12,-62)(2012.14,-60)
(2012.16,-62)(2012.18,-60)(2012.20,-63)(2012.22,-61)(2012.24,-64)(2012.26,-62)(2012.28,-65)(2012.30,-63)(2012.32,-65)(2012.34,-62)(2012.36,-64)(2012.38,-61)(2012.40,-63)(2012.42,-60)
(2012.44,-61)(2012.46,-58)(2012.48,-60)(2012.50,-57)(2012.52,-59)(2012.54,-56)(2012.56,-58)(2012.58,-55)(2012.60,-57)(2012.62,-55)(2012.64,-58)(2012.66,-56)(2012.68,-59)(2012.70,-57)(2012.72,-60)(2012.74,-58)
(2012.76,-54)(2012.78,-52)(2012.80,-54)(2012.82,-51)(2012.84,-53)(2012.86,-49)(2012.88,-51)(2012.90,-47)(2012.92,-49)(2012.94,-45)(2012.96,-47)(2012.98,-44)(2013.00,-46)(2013.02,-48)(2013.04,-50)(2013.06,-52)
(2013.08,-54)(2013.10,-57)(2013.12,-60)(2013.14,-58)(2013.16,-62)(2013.18,-60)(2013.20,-63)(2013.22,-59)(2013.24,-56)
(2013.26,-52)(2013.28,-48)(2013.30,-45)(2013.32,-42)(2013.34,-44)(2013.36,-41)(2013.38,-45)(2013.40,-48)(2013.42,-51)(2013.44,-53)
(2013.46,-55)(2013.48,-53)(2013.50,-56)(2013.52,-54)(2013.54,-57)(2013.56,-55)(2013.58,-58)(2013.60,-56)(2013.62,-59)(2013.64,-57)(2013.66,-60)(2013.68,-58)(2013.70,-61)(2013.72,-59)(2013.74,-57)(2013.76,-60)(2013.78,-58)(2013.80,-56)
(2013.82,-59)(2013.84,-57)(2013.86,-60)(2013.88,-58)(2013.90,-61)(2013.92,-59)(2013.94,-62)(2013.96,-60)(2013.98,-63)(2014.00,-61)(2014.02,-64)(2014.04,-58)(2014.06,-55)
(2014.08,-51)(2014.10,-47)(2014.12,-45)(2014.14,-48)(2014.16,-50)(2014.18,-52)(2014.20,-55)(2014.22,-57)
(2014.24,-59)(2014.26,-61)(2014.28,-59)(2014.30,-62)(2014.32,-60)(2014.34,-62)(2014.36,-59)(2014.38,-61)(2014.40,-58)(2014.42,-60)(2014.44,-62)(2014.46,-60)(2014.48,-63)(2014.50,-61)(2014.52,-64)(2014.54,-62)(2014.56,-65)(2014.58,-63)(2014.60,-66)(2014.62,-64)(2014.64,-61)(2014.66,-58)(2014.68,-55)
(2014.70,-52)(2014.72,-49)(2014.74,-47)(2014.76,-44)(2014.78,-46)(2014.80,-41)(2014.82,-43)(2014.84,-38)(2014.86,-40)(2014.88,-35)(2014.90,-37)(2014.92,-33)(2014.94,-35)(2014.96,-30)(2014.98,-32)(2015.00,-28)
(2015.02,-26)(2015.04,-23)(2015.06,-25)(2015.08,-21)(2015.10,-23)(2015.12,-18)(2015.14,-20)(2015.16,-16)(2015.18,-18)
(2015.20,-14)(2015.22,-11)(2015.24,-13)(2015.26,-9)(2015.28,-12)(2015.30,-7)(2015.32,-10)(2015.34,-5)(2015.36,-8)(2015.38,-3)(2015.40,-6)(2015.42,-1)(2015.44,-4)(2015.46,1)(2015.48,-2)(2015.50,3)(2015.52,0)(2015.54,5)(2015.56,2)(2015.58,7)(2015.60,4)(2015.62,9)(2015.64,6)
(2015.66,12)(2015.68,8)(2015.70,15)(2015.72,10)(2015.74,18)(2015.76,13)(2015.78,5)(2015.80,9)(2015.82,2)(2015.84,-4)(2015.86,1)(2015.88,-6)(2015.90,-2)(2015.92,4)(2015.94,-1)(2015.96,6)
(2015.98,2)(2016.00,-3)(2016.02,1)(2016.04,-6)(2016.06,-2)(2016.08,-9)(2016.10,-4)(2016.12,0)(2016.14,-5)(2016.16,3)(2016.18,-1)
(2016.20,5)(2016.22,9)(2016.24,6)(2016.26,12)(2016.28,8)(2016.30,14)(2016.32,10)(2016.34,16)(2016.36,11)(2016.38,7)(2016.40,12)(2016.42,8)(2016.44,4)(2016.46,9)(2016.48,5)(2016.50,10)(2016.52,15)(2016.54,20)
(2016.56,24)(2016.58,29)(2016.60,26)(2016.62,33)(2016.64,28)(2016.65,48)(2016.66,54)(2016.67,50)(2016.68,30)(2016.70,25)(2016.72,31)(2016.74,27)
(2016.76,22)(2016.78,18)(2016.80,24)(2016.82,19)(2016.84,16)(2016.86,12)
(2016.88,8)(2016.90,4)(2016.92,-3)(2016.94,-8)(2016.96,-12)(2016.98,2)(2017.00,6)
(2017.02,9)(2017.04,5)(2017.06,11)(2017.08,7)(2017.10,10)(2017.12,6)(2017.14,12)(2017.16,8)(2017.18,14)(2017.20,18)(2017.22,22)(2017.24,19)
(2017.26,26)(2017.28,30)(2017.30,38)(2017.32,28)(2017.34,33)(2017.36,27)(2017.38,31)(2017.40,25)(2017.42,29)(2017.44,34)(2017.46,30)(2017.48,35)(2017.50,31)(2017.52,36)(2017.54,32)(2017.56,28)(2017.58,25)(2017.60,22)
(2017.62,19)(2017.64,22)(2017.66,16)(2017.68,19)(2017.70,14)(2017.72,17)(2017.74,12)(2017.76,15)(2017.78,10)
(2017.80,8)(2017.82,4)(2017.84,6)(2017.86,1)(2017.88,3)(2017.90,-2)(2017.92,0)(2017.94,-5)(2017.96,-3)(2017.98,-8)(2018.00,-6)(2018.02,-10)(2018.04,-8)(2018.06,-12)(2018.08,-10)(2018.10,-14)(2018.12,-12)(2018.14,-16)(2018.16,-14)(2018.18,-17)(2018.20,-15)(2018.22,-18)(2018.24,-13)(2018.26,-16)(2018.28,-12)(2018.30,-15)(2018.32,-18)(2018.34,-20)(2018.36,-17)(2018.38,-14)
(2018.40,-10)(2018.42,-6)(2018.44,-8)(2018.46,-3)(2018.48,-5)(2018.50,0)(2018.52,-2)(2018.54,3)(2018.56,1)(2018.58,5)(2018.60,3)(2018.62,7)(2018.64,5)(2018.66,9)
(2018.68,12)(2018.70,16)(2018.72,19)(2018.74,14)(2018.76,10)(2018.78,-2)(2018.80,-5)(2018.82,2)(2018.84,8)
(2018.86,19)(2018.88,24)(2018.90,21)(2018.92,28)(2018.94,25)(2018.96,32)(2018.98,29)(2019.00,36)
(2019.02,40)(2019.04,44)(2019.06,41)(2019.08,48)(2019.10,52)(2019.12,55)
(2019.14,62)(2019.16,70)(2019.18,66)(2019.19,78)(2019.20,85)(2019.21,94)(2019.22,100)(2019.23,108)(2019.24,115)(2019.245,120)(2019.25,104)(2019.26,96)(2019.27,88)(2019.28,82)(2019.30,75)(2019.31,70)(2019.32,73)(2019.34,68)(2019.36,72)(2019.38,66)(2019.40,70)(2019.42,62)(2019.44,58)(2019.46,64)(2019.48,55)(2019.50,50)(2019.52,46)(2019.54,52)(2019.56,44)
};
\addlegendentry{Rendement\_A07}
% Rendement_A10
\addplot[only marks, mark=+, color=cC, mark size=2.7pt, line width=1.1pt] coordinates {
(2000.02,172)(2000.04,160)(2000.06,168)(2000.08,178)(2000.10,195)(2000.11,211)(2000.12,185)(2000.14,170)(2000.16,162)(2000.18,176)(2000.20,166)(2000.22,158)(2000.24,150)(2000.26,190)(2000.28,212)(2000.29,207)(2000.30,198)(2000.31,182)(2000.32,175)(2000.33,190)(2000.34,170)(2000.35,162)(2000.36,180)(2000.37,168)(2000.38,158)(2000.39,150)(2000.40,145)(2000.41,140)(2000.42,132)(2000.43,138)(2000.44,125)(2000.45,128)(2000.46,120)(2000.48,110)(2000.50,80)(2000.52,72)(2000.54,66)(2000.56,60)(2000.58,56)(2000.60,62)(2000.62,50)(2000.64,47)(2000.66,42)(2000.68,35)(2000.70,38)(2000.72,28)(2000.74,22)(2000.76,25)(2000.78,15)(2000.80,10)(2000.82,18)(2000.84,5)(2000.86,0)(2000.88,-5)(2000.90,-10)(2000.92,2)
(2000.95,30)(2000.97,40)(2000.99,45)(2001.01,35)(2001.03,28)(2001.05,38)
(2001.08,32)(2001.10,26)(2001.12,36)(2001.14,30)(2001.16,22)(2001.18,27)(2001.20,18)
(2001.22,12)(2001.24,5)(2001.26,15)(2001.28,0)(2001.30,8)(2001.32,-5)(2001.34,3)(2001.36,-8)(2001.38,6)(2001.40,-11)(2001.42,-2)(2001.44,8)(2001.46,12)(2001.48,4)
(2001.50,15)(2001.52,22)(2001.54,18)(2001.56,28)(2001.58,34)(2001.60,25)(2001.62,30)(2001.64,20)(2001.66,16)(2001.68,26)(2001.70,22)(2001.72,30)(2001.74,33)(2001.76,28)(2001.78,36)(2001.80,40)(2001.82,45)
(2001.84,50)(2001.86,55)(2001.88,60)(2001.90,64)(2001.92,58)(2001.94,68)(2001.96,74)(2001.98,78)(2002.00,70)(2002.02,62)(2002.04,66)(2002.06,57)(2002.08,50)
(2002.10,45)(2002.12,40)(2002.14,42)(2002.16,36)(2002.18,38)(2002.20,32)(2002.22,35)(2002.24,30)(2002.26,33)(2002.28,27)(2002.30,30)(2002.32,25)(2002.34,28)(2002.36,22)(2002.38,20)
(2002.40,23)(2002.42,18)(2002.44,20)(2002.46,15)(2002.48,18)(2002.50,12)(2002.52,14)(2002.54,9)(2002.56,11)
(2002.58,6)(2002.60,2)(2002.62,8)(2002.64,0)(2002.66,4)(2002.68,-3)(2002.70,2)(2002.72,-11)(2002.74,-4)(2002.76,0)(2002.78,-6)(2002.80,-2)(2002.82,-8)(2002.84,-5)
(2002.86,-10)(2002.88,-14)(2002.90,-12)(2002.92,-18)(2002.94,-15)(2002.96,-20)(2002.98,-17)(2003.00,-23)(2003.02,-20)(2003.04,-26)(2003.06,-22)(2003.08,-28)(2003.10,-24)(2003.12,-19)(2003.14,-15)(2003.16,-12)(2003.18,-8)(2003.20,-5)(2003.22,-10)
(2003.24,-2)(2003.26,3)(2003.28,7)(2003.30,-3)(2003.32,-8)(2003.34,-5)
(2003.36,-10)(2003.38,-14)(2003.40,-8)(2003.42,-12)(2003.44,-16)(2003.46,-11)(2003.48,-15)(2003.50,-18)(2003.52,-14)(2003.54,-20)(2003.56,-17)(2003.58,-21)(2003.60,-18)(2003.62,-23)(2003.64,-20)(2003.66,-24)
(2003.68,-28)(2003.70,-32)(2003.72,-27)(2003.74,-34)(2003.76,-30)(2003.78,-36)(2003.80,-31)(2003.82,-37)(2003.84,-33)(2003.86,-38)(2003.88,-34)(2003.90,-30)(2003.92,-35)(2003.94,-29)(2003.96,-33)(2003.98,-28)(2004.00,-31)(2004.02,-26)(2004.04,-30)(2004.06,-25)(2004.08,-28)
(2004.10,-23)(2004.12,-27)(2004.14,-22)(2004.16,-26)(2004.18,-21)(2004.20,-25)(2004.22,-20)(2004.24,-24)(2004.26,-19)(2004.28,-23)(2004.30,-20)(2004.32,-24)(2004.34,-21)(2004.36,-18)(2004.38,-22)(2004.40,-19)(2004.42,-23)(2004.44,-18)(2004.46,-21)(2004.48,-17)(2004.50,-20)(2004.52,-16)(2004.54,-19)(2004.56,-22)(2004.58,-18)(2004.60,-21)(2004.62,-24)(2004.64,-20)(2004.66,-23)(2004.68,-26)(2004.70,-22)(2004.72,-25)(2004.74,-21)(2004.76,-24)(2004.78,-27)(2004.80,-23)(2004.82,-26)(2004.84,-29)(2004.86,-25)(2004.88,-28)(2004.90,-31)(2004.92,-27)(2004.94,-30)(2004.96,-33)(2004.98,-29)(2005.00,-26)(2005.02,-31)
(2005.04,-34)(2005.06,-30)(2005.08,-36)(2005.10,-33)(2005.12,-38)(2005.14,-35)(2005.16,-40)(2005.18,-37)(2005.20,-42)(2005.22,-39)(2005.24,-44)(2005.26,-41)(2005.28,-46)(2005.30,-43)(2005.32,-48)(2005.34,-45)(2005.36,-49)(2005.38,-46)(2005.40,-50)(2005.42,-47)(2005.44,-51)(2005.46,-48)
(2005.48,-52)(2005.50,-49)(2005.52,-54)(2005.54,-51)(2005.56,-56)(2005.58,-53)(2005.60,-58)(2005.62,-55)(2005.64,-60)(2005.66,-57)(2005.68,-62)(2005.70,-59)(2005.72,-63)(2005.74,-60)(2005.76,-65)(2005.78,-62)(2005.80,-66)(2005.82,-63)(2005.84,-67)(2005.86,-64)(2005.88,-68)(2005.90,-65)(2005.92,-69)(2005.94,-66)
(2005.96,-70)(2005.98,-67)(2006.00,-72)(2006.02,-69)(2006.04,-73)(2006.06,-70)(2006.08,-75)(2006.10,-71)(2006.12,-74)(2006.14,-70)(2006.16,-73)(2006.18,-69)(2006.20,-72)(2006.22,-68)(2006.24,-71)(2006.26,-67)(2006.28,-70)(2006.30,-74)(2006.32,-71)(2006.34,-75)(2006.36,-72)(2006.38,-76)(2006.40,-73)(2006.42,-70)(2006.44,-74)(2006.46,-71)(2006.48,-68)(2006.50,-72)(2006.52,-69)(2006.54,-73)(2006.56,-70)(2006.58,-66)(2006.60,-70)(2006.62,-64)(2006.64,-68)(2006.66,-62)(2006.68,-66)(2006.70,-60)
(2006.72,-63)(2006.74,-58)(2006.76,-61)(2006.78,-55)(2006.80,-59)(2006.82,-53)(2006.84,-57)(2006.86,-51)(2006.88,-55)(2006.90,-49)(2006.92,-53)(2006.94,-48)(2006.96,-52)(2006.98,-47)(2007.00,-51)(2007.02,-48)(2007.04,-52)(2007.06,-49)(2007.08,-53)(2007.10,-50)(2007.12,-54)(2007.14,-51)(2007.16,-55)(2007.18,-52)(2007.20,-57)(2007.22,-54)(2007.24,-59)(2007.26,-56)(2007.28,-61)(2007.30,-58)(2007.32,-63)(2007.34,-60)(2007.36,-64)(2007.38,-61)(2007.40,-65)(2007.42,-62)(2007.44,-66)(2007.46,-63)(2007.48,-67)(2007.50,-64)(2007.52,-68)(2007.54,-65)(2007.56,-68)(2007.58,-64)(2007.60,-61)(2007.62,-65)(2007.64,-62)(2007.66,-66)(2007.68,-63)(2007.70,-60)(2007.72,-64)(2007.74,-61)(2007.76,-65)(2007.78,-62)(2007.80,-59)(2007.82,-63)(2007.84,-60)(2007.86,-57)(2007.88,-61)(2007.90,-58)(2007.92,-55)(2007.94,-59)(2007.96,-56)(2007.98,-60)(2008.00,-57)(2008.02,-55)(2008.04,-59)(2008.06,-56)(2008.08,-60)
(2008.10,-62)(2008.12,-65)(2008.14,-62)(2008.16,-66)(2008.18,-63)(2008.20,-67)(2008.22,-64)(2008.24,-69)(2008.26,-66)(2008.28,-70)(2008.30,-67)(2008.32,-72)(2008.34,-69)(2008.36,-73)(2008.38,-70)(2008.40,-74)(2008.42,-71)(2008.44,-75)(2008.46,-72)(2008.48,-70)(2008.50,-67)(2008.52,-70)(2008.54,-66)(2008.56,-69)(2008.58,-65)(2008.60,-68)(2008.62,-64)(2008.64,-67)(2008.66,-63)(2008.68,-66)(2008.70,-61)(2008.72,-58)(2008.74,-55)(2008.76,-53)(2008.78,-56)(2008.80,-58)(2008.82,-61)(2008.84,-63)(2008.86,-66)(2008.88,-68)(2008.90,-70)(2008.92,-68)(2008.94,-72)(2008.96,-70)(2008.98,-74)
(2009.00,-72)(2009.02,-75)(2009.04,-73)(2009.06,-76)(2009.08,-74)(2009.10,-77)(2009.12,-75)(2009.14,-78)(2009.16,-76)(2009.18,-79)(2009.20,-77)(2009.22,-80)(2009.24,-77)(2009.26,-79)(2009.28,-76)(2009.30,-78)(2009.32,-75)(2009.34,-77)(2009.36,-74)(2009.38,-76)(2009.40,-73)(2009.42,-75)(2009.44,-72)(2009.46,-74)(2009.48,-71)(2009.50,-73)(2009.52,-70)(2009.54,-73)(2009.56,-70)(2009.58,-72)(2009.60,-69)(2009.62,-72)(2009.64,-69)(2009.66,-71)(2009.68,-68)(2009.70,-71)(2009.72,-68)(2009.74,-70)(2009.76,-67)(2009.78,-69)(2009.80,-66)(2009.82,-68)(2009.84,-65)(2009.86,-67)(2009.88,-64)(2009.90,-66)(2009.92,-63)(2009.94,-65)(2009.96,-62)(2009.98,-64)
(2010.00,-66)(2010.02,-64)(2010.04,-67)(2010.06,-65)(2010.08,-68)(2010.10,-70)(2010.12,-68)(2010.14,-71)(2010.16,-73)(2010.18,-71)(2010.20,-74)(2010.22,-72)(2010.24,-75)(2010.26,-73)(2010.28,-76)(2010.30,-74)(2010.32,-77)(2010.34,-75)(2010.36,-73)(2010.38,-76)(2010.40,-72)(2010.42,-74)(2010.44,-70)(2010.46,-72)(2010.48,-68)(2010.50,-70)(2010.52,-66)(2010.54,-68)(2010.56,-64)(2010.58,-67)(2010.60,-65)(2010.62,-68)(2010.64,-66)(2010.66,-69)(2010.68,-67)(2010.70,-70)(2010.72,-68)(2010.74,-71)(2010.76,-73)(2010.78,-71)(2010.80,-74)(2010.82,-72)(2010.84,-75)(2010.86,-73)(2010.88,-76)(2010.90,-74)(2010.92,-77)(2010.94,-75)(2010.96,-78)(2010.98,-76)
(2011.00,-79)(2011.02,-76)(2011.04,-78)(2011.06,-75)(2011.08,-73)(2011.10,-71)(2011.12,-74)(2011.14,-70)(2011.16,-73)(2011.18,-69)(2011.20,-72)(2011.22,-70)(2011.24,-73)(2011.26,-71)(2011.28,-74)(2011.30,-72)(2011.32,-75)(2011.34,-73)(2011.36,-76)(2011.38,-74)(2011.40,-77)(2011.42,-75)(2011.44,-78)(2011.46,-76)(2011.48,-79)(2011.50,-77)(2011.52,-80)(2011.54,-77)(2011.56,-79)(2011.58,-76)(2011.60,-78)(2011.62,-75)(2011.64,-77)(2011.66,-74)(2011.68,-76)(2011.70,-73)(2011.72,-75)(2011.74,-72)(2011.76,-74)(2011.78,-71)(2011.80,-73)(2011.82,-70)(2011.84,-72)(2011.86,-70)(2011.88,-73)(2011.90,-71)(2011.92,-73)(2011.94,-70)(2011.96,-72)(2011.98,-69)
(2012.00,-71)(2012.02,-68)(2012.04,-70)(2012.06,-67)(2012.08,-66)(2012.10,-63)(2012.12,-65)(2012.14,-62)(2012.16,-64)(2012.18,-60)(2012.20,-57)(2012.22,-59)(2012.24,-55)(2012.26,-58)(2012.28,-54)(2012.30,-56)(2012.32,-52)(2012.34,-55)(2012.36,-51)(2012.38,-53)(2012.40,-49)(2012.42,-47)(2012.44,-50)(2012.46,-45)(2012.48,-48)(2012.50,-43)(2012.52,-46)(2012.54,-42)(2012.56,-45)(2012.58,-41)(2012.60,-44)(2012.62,-40)(2012.64,-43)(2012.66,-41)(2012.68,-44)(2012.70,-40)(2012.72,-43)(2012.74,-39)(2012.76,-42)(2012.78,-40)(2012.80,-43)(2012.82,-41)(2012.84,-44)(2012.86,-42)(2012.88,-45)(2012.90,-42)(2012.92,-44)(2012.94,-41)(2012.96,-43)(2012.98,-40)
(2013.00,-42)(2013.02,-39)(2013.04,-41)(2013.06,-38)(2013.08,-40)(2013.10,-36)(2013.12,-39)(2013.14,-34)(2013.16,-37)(2013.18,-32)(2013.20,-35)(2013.22,-31)(2013.24,-33)(2013.26,-29)(2013.28,-26)(2013.30,-23)(2013.32,-20)(2013.34,-22)(2013.36,-18)(2013.38,-15)(2013.40,-18)(2013.42,-12)(2013.44,-8)(2013.46,-10)(2013.48,-5)(2013.50,-2)(2013.52,2)(2013.54,-1)(2013.56,5)(2013.58,9)(2013.60,6)(2013.62,12)(2013.64,16)(2013.66,13)(2013.68,17)(2013.70,14)(2013.72,10)(2013.74,12)(2013.76,6)(2013.78,8)(2013.80,3)
(2013.82,0)(2013.84,4)(2013.86,-2)(2013.88,1)(2013.90,-5)(2013.92,-1)(2013.94,-6)(2013.96,2)(2013.98,-3)(2014.00,-7)(2014.02,-2)(2014.04,-8)(2014.06,-4)(2014.08,-9)(2014.10,-5)(2014.12,-1)(2014.14,-6)(2014.16,2)(2014.18,-3)(2014.20,6)(2014.22,9)(2014.24,3)(2014.26,-2)(2014.28,-6)
(2014.30,-9)(2014.32,-12)(2014.34,-10)(2014.36,-14)(2014.38,-11)(2014.40,-16)(2014.42,-13)(2014.44,-18)(2014.46,-15)(2014.48,-20)(2014.50,-17)(2014.52,-22)(2014.54,-19)(2014.56,-24)(2014.58,-21)(2014.60,-26)(2014.62,-23)(2014.64,-28)(2014.66,-25)(2014.68,-30)(2014.70,-26)(2014.72,-22)
(2014.74,-18)(2014.76,-14)(2014.78,-16)(2014.80,-10)(2014.82,-13)(2014.84,-7)(2014.86,-10)(2014.88,-4)(2014.90,-8)(2014.92,-3)(2014.94,-7)(2014.96,-11)(2014.98,-14)(2015.00,-12)
(2015.02,-16)(2015.04,-19)(2015.06,-15)(2015.08,-20)(2015.10,-17)(2015.12,-22)(2015.14,-18)(2015.16,-23)(2015.18,-19)(2015.20,-24)(2015.22,-20)(2015.24,-25)(2015.26,-21)(2015.28,-17)(2015.30,-22)(2015.32,-18)(2015.34,-14)(2015.36,-19)(2015.38,-12)(2015.40,-16)(2015.42,-9)(2015.44,-12)
(2015.46,-5)(2015.48,-1)(2015.50,-4)(2015.52,2)(2015.54,-1)(2015.56,5)(2015.58,2)(2015.60,8)(2015.62,5)(2015.64,11)(2015.66,7)(2015.68,14)(2015.70,10)(2015.72,16)
(2015.74,18)(2015.76,14)(2015.78,22)(2015.80,18)(2015.82,26)(2015.84,21)(2015.86,29)(2015.88,24)(2015.90,32)(2015.92,27)(2015.94,22)(2015.96,30)(2015.98,25)(2016.00,33)(2016.02,28)(2016.04,35)
(2016.06,40)(2016.08,48)(2016.10,55)(2016.12,60)(2016.14,66)
(2016.16,72)(2016.18,80)(2016.19,62)(2016.20,88)(2016.21,68)(2016.22,95)(2016.23,76)(2016.24,101)(2016.23,108)(2016.24,125)(2016.23,137)(2016.22,142)(2016.25,85)(2016.26,70)(2016.27,92)(2016.28,78)(2016.29,65)(2016.30,74)(2016.31,68)(2016.32,62)
(2016.34,70)(2016.36,64)(2016.38,58)(2016.40,66)(2016.42,52)(2016.44,55)(2016.46,45)(2016.48,48)(2016.50,40)(2016.52,36)(2016.54,50)(2016.56,55)(2016.58,32)
(2016.60,0)(2016.65,0)(2016.70,0)(2016.75,0)(2016.80,0)(2016.85,0)(2016.90,0)(2016.95,0)(2017.00,0)(2017.05,0)(2017.10,0)(2017.15,0)(2017.20,0)(2017.25,0)(2017.30,0)(2017.35,0)(2017.40,0)(2017.45,0)(2017.50,0)(2017.55,0)(2017.60,0)(2017.65,0)(2017.70,0)(2017.75,0)(2017.80,0)(2017.85,0)(2017.90,0)(2017.95,0)
(2018.00,0)(2018.05,0)(2018.10,0)(2018.15,0)(2018.20,0)(2018.25,0)(2018.30,0)(2018.35,0)(2018.40,0)(2018.45,0)(2018.50,0)(2018.55,0)(2018.60,0)(2018.65,0)(2018.70,0)(2018.75,0)(2018.80,0)(2018.85,0)(2018.90,0)(2018.95,0)
(2019.00,0)(2019.05,0)(2019.10,0)(2019.15,0)(2019.20,0)(2019.25,0)(2019.30,0)(2019.35,0)(2019.40,0)(2019.45,0)(2019.50,0)(2019.55,0)(2019.60,0)(2019.65,0)(2019.70,0)(2019.75,0)(2019.80,0)(2019.85,0)(2019.90,0)(2019.95,0)
(2020.00,0)(2020.05,0)(2020.10,0)(2020.15,0)(2020.20,0)(2020.25,0)(2020.30,0)(2020.35,0)(2020.40,0)(2020.45,0)(2020.50,0)(2020.55,0)(2020.60,0)(2020.65,0)(2020.70,0)(2020.75,0)(2020.80,0)(2020.85,0)(2020.90,0)(2020.95,0)
(2021.00,0)(2021.05,0)(2021.10,0)(2021.15,0)(2021.20,0)(2021.25,0)(2021.30,0)(2021.35,0)(2021.40,0)(2021.45,0)(2021.50,0)(2021.55,0)(2021.60,0)(2021.65,0)(2021.70,0)(2021.75,0)(2021.80,0)(2021.85,0)(2021.90,0)(2021.95,0)
(2022.00,0)(2022.05,0)(2022.10,0)(2022.15,0)(2022.20,0)(2022.25,0)(2022.30,0)(2022.35,0)(2022.40,0)(2022.45,0)(2022.50,0)(2022.55,0)(2022.60,0)(2022.65,0)(2022.70,0)(2022.75,0)(2022.80,0)(2022.85,0)(2022.90,0)(2022.95,0)(2023.00,0)
};
\addlegendentry{Rendement\_A10}
\addplot[black, line width=2.4pt, no marks] coordinates {(2000.0,0) (2016.58,0)};
\addlegendentry{0,0\%}
\end{axis}
\fill[white] (297,935) rectangle (1906,1017);
\node[anchor=base, inner sep=0pt, font=\chartfont\bfseries\fontsize{15.9}{19}\selectfont, text=txt] at (1104,989.3) {Performance par rapport à l'indice EU STOXX 600 GROSS TR\ \ du placement Inpex Corp en fonction de la date de début pour des durées};
\node[anchor=base, inner sep=0pt, font=\chartfont\bfseries\fontsize{15.9}{19}\selectfont, text=txt] at (1103,946) {entre 4 (A04) et 10 ans (A10). Cotations entre janv. 2000 et juil. 2026. Revenus CAPITALISES depuis mars. 2007.};
\fill[cA] (0,1045) rectangle (23,1050);
\fill[cA] (2193,1045) rectangle (2216,1050);
\fill[cA] (2209,1030) rectangle (2216,1050);
\fill[cA] (0,2) rectangle (23,9);
\fill[cA] (2209,0) rectangle (2216,66);
\end{tikzpicture}
\end{document}
